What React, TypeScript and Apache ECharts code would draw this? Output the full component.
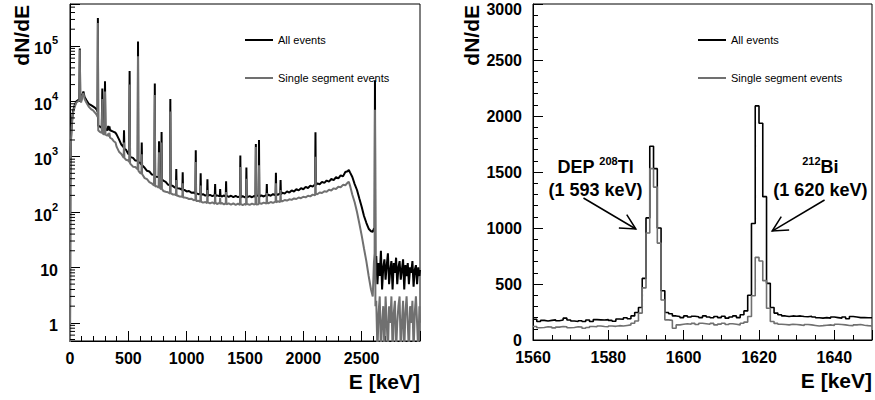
import React, { useEffect, useRef } from 'react';
import * as echarts from 'echarts';

const FONT = '"Liberation Sans", Arial, Helvetica, sans-serif';
const BLACK = '#000000';
const GREY = '#707070';

// ---------- Left panel: full spectrum (log scale) ----------
const leftEnergy = [
  0, 3, 8, 15, 25, 40, 55, 70, 80, 84,
  88, 95, 105, 115, 125, 140, 160, 180, 200, 215,
  230, 236, 239, 242, 255, 272, 277, 281, 296, 300,
  304, 320, 328, 332, 338, 343, 360, 375, 390,
  400, 420, 440, 460, 463, 466, 480, 500, 507, 511,
  515, 520, 540, 560, 580, 583, 586, 600, 612, 615,
  618, 640, 660, 680, 700, 720, 724, 727, 730, 740,
  760, 763, 766, 782, 785, 788, 800, 820, 840, 857,
  860, 863, 880, 900, 908, 911, 914, 920, 940, 963,
  966, 969, 980, 1000, 1020, 1040, 1060, 1075, 1078, 1081,
  1100, 1117, 1120, 1123, 1140, 1160, 1175, 1178, 1181, 1200,
  1220, 1241, 1244, 1247, 1260, 1284, 1287, 1290, 1300, 1320,
  1335, 1338, 1341, 1360, 1380, 1400, 1420, 1440, 1457, 1460,
  1463, 1480, 1500, 1509, 1512, 1515, 1540, 1560, 1580, 1590,
  1593, 1596, 1617, 1620, 1623, 1640, 1660, 1684, 1687, 1690,
  1700, 1720, 1740, 1762, 1765, 1768, 1780, 1802, 1805, 1808,
  1820, 1840, 1860, 1880, 1900, 1920, 1940, 1960, 1980, 2000,
  2020, 2040, 2060, 2080, 2101, 2104, 2107, 2120, 2140, 2160,
  2180, 2200, 2220, 2240, 2260, 2280, 2300, 2320, 2340, 2360,
  2380, 2390, 2400, 2420, 2440, 2460, 2480, 2500, 2520, 2540,
  2560, 2580, 2595, 2605, 2611, 2614, 2618,
  2625, 2635, 2645, 2655, 2665, 2675, 2685, 2695, 2705, 2715,
  2725, 2735, 2745, 2755, 2765, 2775, 2785, 2795, 2805, 2815,
  2825, 2835, 2845, 2855, 2865, 2875, 2885, 2895, 2905, 2915,
  2925, 2935, 2945, 2955, 2965, 2975, 2985, 2995, 3000,
];

const leftAllEvents = [
  0.3, 300, 2000, 4000, 6500, 8500, 10000, 10500, 11000, 90000,
  11000, 10000, 13000, 15000, 12000, 10500, 9000, 8500, 8000, 7600,
  7000, 6500, 320000, 3600, 3500, 3300, 17000, 3200, 3000, 23000,
  3100, 3000, 3600, 3000, 3500, 3000, 2900, 2800, 2700,
  2500, 2050, 1650, 1480, 3000, 1400, 1330, 1120, 1110, 35000,
  1010, 980, 950, 850, 845, 120000, 800, 770, 715, 1800,
  700, 630, 555, 540, 478, 470, 455, 21000, 445, 432,
  428, 1900, 410, 395, 2800, 392, 368, 350, 312, 308,
  11000, 300, 297, 275, 284, 600, 270, 268, 266, 252,
  520, 246, 252, 236, 240, 224, 226, 214, 1300, 219,
  210, 214, 500, 204, 210, 198, 206, 390, 196, 204,
  194, 203, 320, 193, 200, 192, 260, 201, 190, 199,
  189, 360, 198, 188, 197, 186, 196, 185, 195, 1050,
  184, 194, 183, 193, 640, 184, 194, 185, 196, 187,
  1700, 197, 198, 2000, 189, 200, 191, 203, 320, 194,
  206, 197, 210, 201, 510, 213, 204, 218, 380, 208,
  224, 215, 236, 225, 246, 235, 258, 246, 270, 258,
  285, 272, 300, 288, 316, 2750, 305, 330, 318, 350,
  336, 370, 355, 395, 378, 425, 405, 460, 440, 530,
  545, 575, 520, 430, 320, 250, 175, 125, 85, 64,
  50, 45, 44, 50, 52, 24000, 12,
  16, 5, 12, 7, 20, 4, 10, 14, 6, 11,
  18, 5, 9, 13, 4, 12, 8, 15, 5, 10,
  13, 6, 9, 14, 4, 11, 7, 12, 5, 10,
  8, 13, 4.5, 9, 11, 5, 10, 7, 9,
];

const leftSingleSegment = [
  0.3, 250, 1800, 3500, 6000, 8000, 9500, 10000, 10500, 85000,
  10500, 9500, 12500, 14000, 11000, 9500, 8000, 7200, 6800, 6200,
  5600, 5200, 260000, 3000, 2800, 2700, 11000, 2600, 2500, 15000,
  2500, 2400, 2600, 2300, 2700, 2200, 2100, 1900, 1800,
  1500, 1230, 1120, 960, 1800, 950, 880, 850, 800, 20000,
  750, 735, 660, 650, 590, 65000, 560, 510, 495, 1100,
  485, 410, 392, 348, 330, 300, 305, 13000, 290, 295,
  275, 1200, 280, 258, 1800, 262, 240, 232, 228, 215,
  6500, 220, 208, 207, 200, 380, 196, 199, 190, 189,
  330, 182, 184, 180, 172, 174, 164, 166, 800, 158,
  160, 152, 300, 155, 148, 152, 145, 250, 149, 143,
  150, 141, 210, 148, 140, 147, 180, 139, 146, 138,
  145, 230, 137, 144, 136, 143, 135, 142, 134, 650,
  141, 133, 140, 134, 400, 141, 135, 142, 136, 143,
  1500, 137, 138, 700, 146, 140, 148, 142, 220, 150,
  143, 152, 146, 155, 330, 149, 157, 152, 250, 160,
  156, 165, 161, 170, 166, 176, 172, 183, 178, 189,
  184, 197, 192, 206, 200, 1000, 215, 210, 226, 220,
  238, 232, 252, 245, 268, 260, 286, 280, 310, 305,
  340, 352, 300, 205, 150, 100, 62, 38, 22, 13,
  7, 4, 3, 12, 18, 7000, 2,
  2.5, 0.3, 1.5, 3, 0.3, 1, 2, 0.3, 3, 1,
  0.3, 2, 1, 3, 0.3, 1.5, 2.5, 0.3, 1, 2,
  3, 0.3, 1, 2.5, 0.3, 1.5, 3, 1, 0.3, 2,
  1, 2.5, 0.3, 1.5, 3, 1, 0.3, 2, 1,
];

// ---------- Right panel: zoom 1560-1650 keV, 1 keV bins (lower bin edges) ----------
const rightBinLow = [
  1560, 1561, 1562, 1563, 1564, 1565, 1566, 1567, 1568, 1569,
  1570, 1571, 1572, 1573, 1574, 1575, 1576, 1577, 1578, 1579,
  1580, 1581, 1582, 1583, 1584, 1585, 1586, 1587, 1588, 1589,
  1590, 1591, 1592, 1593, 1594, 1595, 1596, 1597, 1598, 1599,
  1600, 1601, 1602, 1603, 1604, 1605, 1606, 1607, 1608, 1609,
  1610, 1611, 1612, 1613, 1614, 1615, 1616, 1617, 1618, 1619,
  1620, 1621, 1622, 1623, 1624, 1625, 1626, 1627, 1628, 1629,
  1630, 1631, 1632, 1633, 1634, 1635, 1636, 1637, 1638, 1639,
  1640, 1641, 1642, 1643, 1644, 1645, 1646, 1647, 1648, 1649,
];
const rightUpperEdge = 1650;

const rightAllEvents = [
  185, 165, 175, 170, 175, 180, 172, 178, 195, 178,
  170, 165, 172, 165, 178, 165, 182, 180, 178, 182,
  175, 168, 188, 185, 198, 190, 215, 245, 290, 550,
  1090, 1730, 1530, 1000, 440, 245, 235, 215, 210, 200,
  215, 205, 212, 208, 200, 215, 205, 198, 210, 200,
  212, 195, 205, 215, 200, 225, 260, 400, 1040, 2090,
  1935, 1280, 506, 290, 240, 225, 215, 210, 215, 212,
  215, 210, 208, 212, 205, 198, 195, 200, 195, 205,
  200, 195, 205, 190, 210, 205, 200, 200, 198, 198,
];

const rightSingleSegment = [
  120, 110, 112, 118, 115, 108, 115, 120, 118, 110,
  112, 118, 115, 105, 112, 120, 118, 125, 120, 118,
  125, 122, 128, 125, 130, 135, 150, 170, 240, 465,
  955, 1530, 1365, 865, 357, 180, 175, 105, 135, 140,
  145, 140, 148, 138, 150, 145, 140, 148, 135, 142,
  150, 138, 145, 140, 135, 150, 160, 210, 395, 738,
  705, 530, 283, 165, 148, 140, 138, 135, 140, 138,
  135, 130, 138, 135, 130, 125, 128, 132, 135, 130,
  140, 138, 135, 130, 128, 135, 138, 132, 128, 125,
];

const seriesNames = ['All events', 'Single segment events'];
const yTitle = 'dN/dE';
const xTitle = 'E [keV]';
const logMinorFactors = [2, 3, 4, 5, 6, 7, 8, 9];

export default function App() {
  const ref = useRef<HTMLDivElement>(null);

  useEffect(() => {
    if (!ref.current) return;
    const chart = echarts.init(ref.current, null, { renderer: 'svg' });

    const leftYMin = 0.47;
    const leftYMax = 570000;
    const leftXMax = 3000;
    const rightYMax = 3000;

    const leftAll = leftEnergy.map((e, i) => [e, leftAllEvents[i]]);
    const leftSingle = leftEnergy.map((e, i) => [e, leftSingleSegment[i]]);

    const rightAll = rightBinLow.map((e, i) => [e, rightAllEvents[i]]);
    rightAll.push([rightUpperEdge, rightAllEvents[rightAllEvents.length - 1]]);
    const rightSingle = rightBinLow.map((e, i) => [e, rightSingleSegment[i]]);
    rightSingle.push([rightUpperEdge, rightSingleSegment[rightSingleSegment.length - 1]]);

    // minor ticks of the log axis (2..9 x each decade)
    const minorTicks: number[][] = [];
    for (let d = -1; d <= 6; d++) {
      logMinorFactors.forEach((f) => {
        const v = f * Math.pow(10, d);
        if (v > leftYMin && v < leftYMax) minorTicks.push([0, v]);
      });
    }

    const tickLine = { lineStyle: { color: BLACK, width: 1 } };
    const labelBase = {
      color: BLACK,
      fontFamily: FONT,
      fontWeight: 'bold' as const,
      fontSize: 16,
    };
    const nameStyle = {
      color: BLACK,
      fontFamily: FONT,
      fontWeight: 'bold' as const,
      fontSize: 21,
    };

    const legendCommon = {
      orient: 'vertical' as const,
      icon: 'rect',
      itemWidth: 28,
      itemHeight: 2,
      itemGap: 24,
      padding: 0,
      selectedMode: false,
      data: seriesNames,
      textStyle: { fontSize: 11, fontFamily: FONT, color: BLACK, lineHeight: 14 },
    };

    const gridCommon = {
      show: true,
      borderColor: BLACK,
      borderWidth: 1,
      containLabel: false,
      outerBoundsMode: 'none',
    };

    const option: any = {
      animation: false,
      backgroundColor: '#ffffff',
      textStyle: { fontFamily: FONT },
      grid: [
        { ...gridCommon, left: 70, top: 4, width: 350, height: 337 },
        { ...gridCommon, left: 533, top: 4, width: 339, height: 336 },
      ],
      legend: [
        { ...legendCommon, left: 245, top: 33 },
        { ...legendCommon, left: 698, top: 33 },
      ],
      xAxis: [
        {
          type: 'value',
          gridIndex: 0,
          min: 0,
          max: leftXMax,
          interval: 500,
          axisLine: { show: true, lineStyle: { color: BLACK, width: 1 } },
          axisTick: { show: true, inside: true, length: 10, ...tickLine },
          minorTick: { show: true, splitNumber: 5, length: 5, ...tickLine },
          splitLine: { show: false },
          axisLabel: {
            ...labelBase,
            margin: 9,
            formatter: (v: number) => (v >= leftXMax ? '' : String(v)),
          },
          name: xTitle,
          nameLocation: 'end',
          nameGap: 0,
          nameTextStyle: { ...nameStyle, align: 'right', verticalAlign: 'top', padding: [30, 0, 0, 0] },
        },
        {
          type: 'value',
          gridIndex: 1,
          min: 1560,
          max: 1650,
          interval: 20,
          axisLine: { show: true, lineStyle: { color: BLACK, width: 1 } },
          axisTick: { show: true, inside: true, length: 10, ...tickLine },
          minorTick: { show: true, splitNumber: 4, length: 5, ...tickLine },
          splitLine: { show: false },
          axisLabel: {
            ...labelBase,
            margin: 9,
            formatter: (v: number) => ((v - 1560) % 20 === 0 ? String(v) : ''),
          },
          name: xTitle,
          nameLocation: 'end',
          nameGap: 0,
          nameTextStyle: { ...nameStyle, align: 'right', verticalAlign: 'top', padding: [30, 0, 0, 0] },
        },
      ],
      yAxis: [
        {
          type: 'log',
          logBase: 10,
          gridIndex: 0,
          min: leftYMin,
          max: leftYMax,
          axisLine: { show: true, lineStyle: { color: BLACK, width: 1 } },
          axisTick: { show: true, inside: true, length: 10, ...tickLine },
          splitLine: { show: false },
          axisLabel: {
            color: BLACK,
            margin: 12,
            formatter: (v: number) => {
              const l = Math.log10(v);
              const e = Math.round(l);
              if (Math.abs(l - e) > 0.01) return '';
              if (e === 0) return '{n|1}';
              if (e === 1) return '{n|10}';
              return `{n|10}{e|${e}}`;
            },
            rich: {
              n: { ...labelBase, lineHeight: 22, verticalAlign: 'bottom' },
              e: { ...labelBase, fontSize: 11, lineHeight: 12, verticalAlign: 'top' },
            },
          },
        },
        {
          type: 'value',
          gridIndex: 1,
          min: 0,
          max: rightYMax,
          interval: 500,
          axisLine: { show: true, lineStyle: { color: BLACK, width: 1 } },
          axisTick: { show: true, inside: true, length: 10, ...tickLine },
          minorTick: { show: true, splitNumber: 5, length: 5, ...tickLine },
          splitLine: { show: false },
          axisLabel: {
            color: BLACK,
            margin: 11,
            formatter: (v: number) => (v >= rightYMax ? `{t|${v}}` : `{n|${v}}`),
            rich: {
              n: { ...labelBase },
              t: { ...labelBase, padding: [10, 0, 0, 0] },
            },
          },
        },
      ],
      series: [
        {
          name: seriesNames[0],
          type: 'line',
          xAxisIndex: 0,
          yAxisIndex: 0,
          data: leftAll,
          showSymbol: false,
          symbol: 'none',
          color: BLACK,
          lineStyle: { color: BLACK, width: 2 },
          clip: true,
          silent: true,
          z: 2,
        },
        {
          name: seriesNames[1],
          type: 'line',
          xAxisIndex: 0,
          yAxisIndex: 0,
          data: leftSingle,
          showSymbol: false,
          symbol: 'none',
          color: GREY,
          lineStyle: { color: GREY, width: 2 },
          clip: true,
          silent: true,
          z: 3,
        },
        {
          type: 'custom',
          xAxisIndex: 0,
          yAxisIndex: 0,
          data: minorTicks,
          encode: { x: 0, y: 1 },
          clip: false,
          silent: true,
          z: 5,
          renderItem: (_params: any, api: any) => {
            const p = api.coord([api.value(0), api.value(1)]);
            return {
              type: 'line',
              shape: { x1: p[0], y1: p[1], x2: p[0] + 5, y2: p[1] },
              style: { stroke: BLACK, lineWidth: 1 },
            };
          },
        },
        {
          name: seriesNames[0],
          type: 'line',
          step: 'end',
          xAxisIndex: 1,
          yAxisIndex: 1,
          data: rightAll,
          showSymbol: false,
          symbol: 'none',
          color: BLACK,
          lineStyle: { color: BLACK, width: 1.6 },
          silent: true,
          z: 2,
        },
        {
          name: seriesNames[1],
          type: 'line',
          step: 'end',
          xAxisIndex: 1,
          yAxisIndex: 1,
          data: rightSingle,
          showSymbol: false,
          symbol: 'none',
          color: GREY,
          lineStyle: { color: GREY, width: 1.6 },
          silent: true,
          z: 3,
        },
      ],
    };

    chart.setOption(option);

    // ---------- y titles (rotated, aligned to the top of each frame) ----------
    const graphic: any[] = [];
    const leftTop = chart.convertToPixel({ gridIndex: 0 }, [0, leftYMax]) as number[];
    const rightTop = chart.convertToPixel({ gridIndex: 1 }, [1560, rightYMax]) as number[];
    [
      { x: leftTop[0] - 38, y: leftTop[1] + 1 },
      { x: rightTop[0] - 51, y: rightTop[1] + 1 },
    ].forEach((p) => {
      graphic.push({
        type: 'text',
        x: p.x,
        y: p.y,
        rotation: Math.PI / 2,
        silent: true,
        style: {
          text: yTitle,
          align: 'right',
          verticalAlign: 'bottom',
          fontSize: 21,
          fontWeight: 'bold',
          fontFamily: FONT,
          fill: BLACK,
        },
      });
    });

    // ---------- annotations on the right panel ----------
    const toPx = (p: number[]) => chart.convertToPixel({ gridIndex: 1 }, p) as number[];
    const richStyles = {
      b: { fontSize: 18, fontWeight: 'bold', fontFamily: FONT, fill: BLACK, lineHeight: 23 },
      s: { fontSize: 11, fontWeight: 'bold', fontFamily: FONT, fill: BLACK, lineHeight: 12, verticalAlign: 'top' },
    };
    const labels = [
      { text: '{b|DEP }{s|208}{b|Tl}\n{b|(1 593 keV)}', at: [1576.6, 1440] },
      { text: '{s|212}{b|Bi}\n{b|(1 620 keV)}', at: [1636.3, 1440] },
    ];
    const arrows = [
      { tail: [1573.4, 1268], head: [1587.3, 991] },
      { tail: [1637.4, 1250], head: [1623.5, 973] },
    ];
    labels.forEach((l) => {
      const p = toPx(l.at);
      graphic.push({
        type: 'text',
        x: p[0],
        y: p[1],
        silent: true,
        style: { text: l.text, align: 'center', verticalAlign: 'middle', rich: richStyles },
      });
    });
    arrows.forEach((a) => {
      const t = toPx(a.tail);
      const h = toPx(a.head);
      const ang = Math.atan2(t[1] - h[1], t[0] - h[0]);
      const len = 17;
      const spread = (27 * Math.PI) / 180;
      const b1 = [h[0] + len * Math.cos(ang + spread), h[1] + len * Math.sin(ang + spread)];
      const b2 = [h[0] + len * Math.cos(ang - spread), h[1] + len * Math.sin(ang - spread)];
      graphic.push({
        type: 'line',
        silent: true,
        shape: { x1: t[0], y1: t[1], x2: h[0], y2: h[1] },
        style: { stroke: BLACK, lineWidth: 1.5 },
      });
      graphic.push({
        type: 'polyline',
        silent: true,
        shape: { points: [b1, h, b2] },
        style: { stroke: BLACK, lineWidth: 1.5, fill: 'none' },
      });
    });
    chart.setOption({ graphic });

    return () => chart.dispose();
  }, []);

  return (
    <div
      ref={ref}
      style={{ position: 'fixed', left: 0, top: 0, width: 875, height: 400, background: '#fff' }}
    />
  );
}
